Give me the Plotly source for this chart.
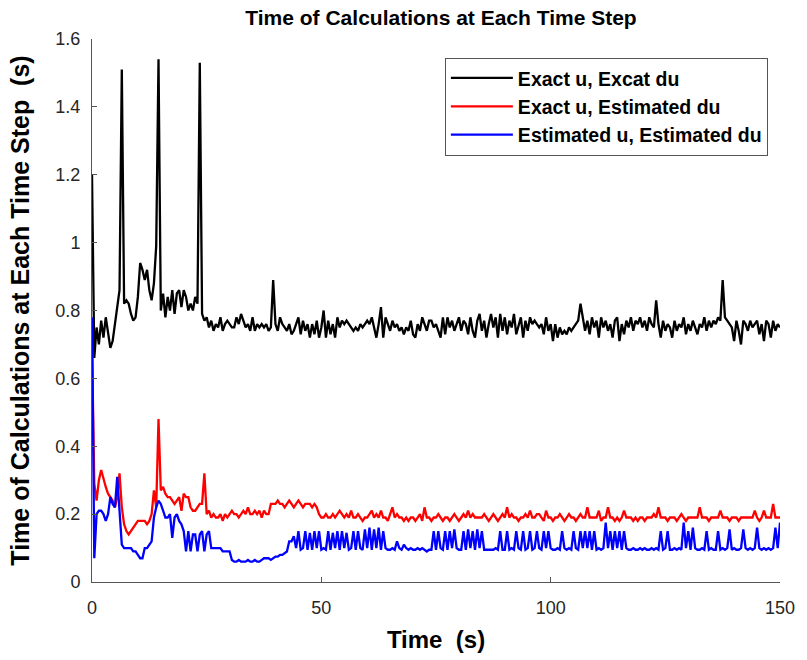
import plotly.graph_objects as go

TIME_STEP = 0.5  # s between samples

exact_exact = [
    1.20,0.66,0.75,0.70,0.77,0.72,0.78,0.74,0.69,0.71,
    0.76,0.80,0.86,1.51,0.82,0.83,0.82,0.79,0.77,0.78,
    0.84,0.94,0.92,0.89,0.92,0.86,0.83,0.88,0.99,1.54,
    0.80,0.85,0.78,0.84,0.80,0.86,0.79,0.85,0.86,0.81,
    0.86,0.84,0.80,0.82,0.80,0.84,0.82,1.53,0.79,0.77,
    0.78,0.75,0.77,0.74,0.76,0.75,0.78,0.74,0.76,0.77,
    0.76,0.75,0.75,0.78,0.76,0.79,0.77,0.75,0.76,0.74,
    0.78,0.74,0.76,0.75,0.76,0.75,0.76,0.74,0.75,0.89,
    0.76,0.74,0.78,0.76,0.75,0.74,0.76,0.73,0.74,0.76,
    0.78,0.73,0.77,0.74,0.76,0.72,0.76,0.73,0.77,0.72,
    0.75,0.80,0.72,0.77,0.73,0.76,0.72,0.78,0.75,0.77,
    0.76,0.77,0.76,0.75,0.74,0.75,0.74,0.76,0.75,0.76,
    0.77,0.76,0.78,0.75,0.72,0.76,0.81,0.72,0.78,0.76,
    0.74,0.77,0.75,0.76,0.74,0.75,0.73,0.75,0.74,0.77,
    0.73,0.72,0.76,0.74,0.78,0.76,0.74,0.77,0.77,0.75,
    0.76,0.74,0.72,0.78,0.73,0.78,0.75,0.77,0.74,0.76,
    0.78,0.74,0.77,0.76,0.73,0.78,0.74,0.72,0.77,0.79,
    0.74,0.77,0.72,0.76,0.79,0.75,0.78,0.72,0.79,0.74,
    0.78,0.73,0.77,0.75,0.79,0.73,0.76,0.78,0.72,0.77,
    0.74,0.78,0.76,0.77,0.76,0.75,0.76,0.73,0.78,0.74,
    0.76,0.71,0.76,0.72,0.75,0.73,0.74,0.73,0.75,0.74,
    0.75,0.76,0.77,0.82,0.78,0.74,0.77,0.73,0.78,0.75,
    0.77,0.72,0.78,0.75,0.77,0.74,0.76,0.72,0.77,0.78,
    0.71,0.76,0.73,0.77,0.75,0.78,0.74,0.77,0.76,0.78,
    0.75,0.77,0.74,0.78,0.76,0.75,0.83,0.76,0.72,0.77,
    0.74,0.76,0.75,0.72,0.77,0.74,0.76,0.75,0.78,0.73,
    0.76,0.74,0.77,0.75,0.73,0.76,0.75,0.78,0.74,0.77,
    0.75,0.77,0.76,0.78,0.77,0.89,0.78,0.77,0.76,0.75,
    0.71,0.77,0.74,0.70,0.77,0.76,0.74,0.77,0.75,0.76,
    0.77,0.73,0.76,0.71,0.77,0.76,0.72,0.77,0.74,0.76,
    0.75,
]

exact_estimated = [
    0.70,0.29,0.24,0.30,0.33,0.30,0.28,0.26,0.25,0.24,
    0.22,0.25,0.32,0.22,0.17,0.15,0.14,0.15,0.16,0.17,
    0.18,0.18,0.18,0.18,0.17,0.18,0.20,0.27,0.22,0.48,
    0.27,0.28,0.26,0.25,0.25,0.24,0.23,0.24,0.25,0.21,
    0.26,0.25,0.25,0.22,0.21,0.21,0.22,0.23,0.23,0.32,
    0.20,0.21,0.19,0.20,0.19,0.19,0.20,0.18,0.20,0.19,
    0.20,0.21,0.20,0.20,0.19,0.20,0.21,0.20,0.22,0.20,
    0.20,0.21,0.20,0.21,0.19,0.21,0.20,0.20,0.23,0.23,
    0.23,0.24,0.23,0.23,0.22,0.23,0.24,0.23,0.22,0.23,
    0.24,0.23,0.22,0.23,0.23,0.23,0.22,0.23,0.22,0.20,
    0.19,0.19,0.20,0.19,0.19,0.20,0.19,0.20,0.21,0.20,
    0.19,0.20,0.19,0.21,0.19,0.19,0.20,0.19,0.18,0.19,
    0.19,0.20,0.21,0.19,0.20,0.19,0.21,0.19,0.19,0.18,
    0.20,0.22,0.19,0.20,0.19,0.19,0.18,0.19,0.18,0.19,
    0.19,0.18,0.19,0.20,0.18,0.22,0.19,0.19,0.18,0.19,
    0.19,0.20,0.19,0.18,0.19,0.19,0.18,0.19,0.20,0.19,
    0.18,0.19,0.20,0.19,0.21,0.19,0.20,0.19,0.19,0.19,
    0.19,0.20,0.19,0.18,0.19,0.20,0.19,0.18,0.19,0.20,
    0.19,0.22,0.19,0.20,0.19,0.19,0.18,0.19,0.19,0.20,
    0.19,0.21,0.19,0.19,0.20,0.20,0.19,0.18,0.21,0.19,
    0.19,0.18,0.19,0.19,0.20,0.19,0.18,0.19,0.20,0.19,
    0.19,0.18,0.19,0.20,0.19,0.19,0.22,0.19,0.19,0.19,
    0.19,0.21,0.18,0.19,0.19,0.22,0.19,0.19,0.18,0.19,
    0.18,0.19,0.21,0.19,0.19,0.19,0.18,0.19,0.18,0.19,
    0.19,0.18,0.19,0.19,0.19,0.20,0.19,0.22,0.19,0.19,
    0.19,0.18,0.19,0.19,0.19,0.18,0.19,0.20,0.19,0.18,
    0.19,0.19,0.19,0.19,0.19,0.22,0.19,0.19,0.19,0.18,
    0.19,0.19,0.19,0.19,0.21,0.19,0.19,0.19,0.18,0.19,
    0.19,0.19,0.18,0.19,0.19,0.19,0.19,0.19,0.19,0.21,
    0.19,0.18,0.19,0.21,0.19,0.19,0.19,0.23,0.19,0.19,
    0.19,
]

estimated_estimated = [
    0.78,0.07,0.20,0.21,0.21,0.20,0.18,0.20,0.25,0.23,
    0.22,0.31,0.21,0.11,0.10,0.10,0.10,0.10,0.09,0.09,
    0.08,0.07,0.07,0.10,0.10,0.11,0.12,0.19,0.22,0.24,
    0.23,0.21,0.19,0.19,0.20,0.13,0.19,0.20,0.18,0.17,
    0.15,0.09,0.15,0.09,0.14,0.14,0.09,0.14,0.15,0.09,
    0.14,0.15,0.10,0.10,0.10,0.10,0.10,0.09,0.09,0.09,
    0.09,0.065,0.06,0.06,0.065,0.06,0.06,0.06,0.065,0.06,
    0.06,0.065,0.06,0.06,0.065,0.07,0.07,0.07,0.065,0.07,
    0.075,0.075,0.08,0.08,0.085,0.09,0.12,0.12,0.135,0.10,
    0.15,0.095,0.10,0.15,0.095,0.145,0.095,0.15,0.10,0.15,
    0.095,0.10,0.095,0.15,0.095,0.145,0.10,0.15,0.095,0.15,
    0.10,0.145,0.095,0.10,0.15,0.095,0.15,0.10,0.095,0.155,
    0.10,0.16,0.095,0.155,0.10,0.16,0.095,0.15,0.10,0.095,
    0.095,0.10,0.095,0.12,0.10,0.095,0.11,0.10,0.095,0.10,
    0.095,0.095,0.10,0.095,0.10,0.095,0.09,0.095,0.095,0.15,
    0.095,0.15,0.10,0.095,0.15,0.095,0.15,0.10,0.155,0.10,
    0.095,0.095,0.15,0.095,0.155,0.10,0.15,0.095,0.155,0.10,
    0.15,0.095,0.095,0.095,0.095,0.095,0.10,0.095,0.15,0.095,
    0.095,0.15,0.095,0.10,0.095,0.15,0.10,0.095,0.15,0.095,
    0.10,0.15,0.095,0.10,0.15,0.10,0.095,0.15,0.10,0.15,
    0.10,0.095,0.095,0.10,0.095,0.15,0.10,0.095,0.10,0.095,
    0.15,0.10,0.095,0.15,0.10,0.15,0.10,0.15,0.095,0.15,
    0.095,0.10,0.095,0.10,0.175,0.10,0.15,0.095,0.15,0.10,
    0.15,0.095,0.15,0.10,0.095,0.095,0.10,0.095,0.095,0.10,
    0.095,0.10,0.095,0.095,0.10,0.095,0.10,0.095,0.15,0.095,
    0.10,0.15,0.095,0.095,0.10,0.095,0.10,0.095,0.175,0.10,
    0.15,0.095,0.16,0.10,0.095,0.095,0.10,0.095,0.15,0.095,
    0.10,0.095,0.095,0.15,0.095,0.10,0.095,0.10,0.155,0.095,
    0.10,0.095,0.095,0.10,0.155,0.10,0.095,0.10,0.095,0.10,
    0.16,0.10,0.095,0.10,0.095,0.10,0.095,0.10,0.16,0.10,
    0.175,
]

series_names = ["Exact u, Excat du", "Exact u, Estimated du", "Estimated u, Estimated du"]
series_values = [exact_exact, exact_estimated, estimated_estimated]
series_colors = ["#000000", "#ff0000", "#0000ff"]

FONT = "Liberation Sans, Arial, sans-serif"

fig = go.Figure()
for name, vals, col in zip(series_names, series_values, series_colors):
    t = [i * TIME_STEP for i in range(len(vals))]
    fig.add_trace(go.Scatter(x=t, y=vals, mode="lines", name=name,
                             line=dict(color=col, width=2.3)))

axis_common = dict(showline=True, linecolor="#555555", linewidth=1, mirror=False,
                   showgrid=False, zeroline=False, ticks="inside", ticklen=5,
                   tickcolor="#555555",
                   tickfont=dict(family=FONT, size=18, color="#262626"))

fig.update_layout(
    width=807, height=660,
    margin=dict(l=92, r=17, t=39, b=72),
    paper_bgcolor="white", plot_bgcolor="white",
    title=dict(text="<b>Time of Calculations at Each Time Step</b>",
               x=(92 + 790) / 2 / 807, xanchor="center", y=1 - 18 / 660, yanchor="middle",
               font=dict(family=FONT, size=21, color="#000000")),
    xaxis=dict(range=[0, 150], tick0=0, dtick=50, ticklabelstandoff=9,
               title=dict(text="<b>Time  (s)</b>", standoff=14,
                          font=dict(family=FONT, size=24, color="#000000")),
               **axis_common),
    yaxis=dict(range=[0, 1.6], tick0=0, dtick=0.2, ticklabelstandoff=7,
               title=dict(text="<b>Time of Calculations at Each Time Step  (s)</b>", standoff=18,
                          font=dict(family=FONT, size=25, color="#000000")),
               **axis_common),
    legend=dict(x=(450 - 92) / 698, y=(588 - 58) / 549, xanchor="left", yanchor="top",
                bgcolor="white", bordercolor="#555555", borderwidth=1,
                font=dict(family=FONT, size=19.5, color="#000000", weight="bold"),
                itemwidth=62, tracegroupgap=0),
    showlegend=True,
)

fig.write_html("out.html")
